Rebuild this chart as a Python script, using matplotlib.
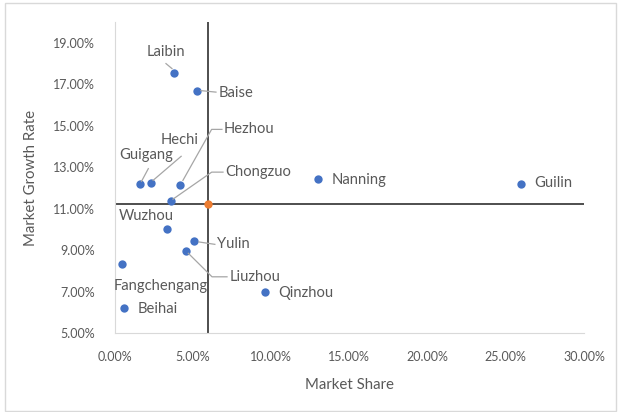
import matplotlib.pyplot as plt
from matplotlib.patches import Rectangle
from matplotlib.lines import Line2D
from matplotlib.ticker import PercentFormatter, MultipleLocator

# market share (%) and market growth rate (%) per city
cities = ['Laibin', 'Baise', 'Hezhou', 'Hechi', 'Guigang', 'Chongzuo', 'Wuzhou',
          'Nanning', 'Guilin', 'Yulin', 'Liuzhou', 'Fangchengang', 'Beihai', 'Qinzhou']
share = [3.80, 5.27, 4.18, 2.31, 1.63, 3.61, 3.37,
         13.02, 26.00, 5.09, 4.57, 0.48, 0.61, 9.62]
growth = [17.56, 16.69, 12.12, 12.22, 12.17, 11.36, 10.02,
          12.45, 12.20, 9.44, 8.95, 8.33, 6.22, 6.98]

mean_share = 5.95
mean_growth = 11.2

# label placement in pixels relative to the point (dx, dy down), alignment, leader path
label_pos = {
    'Laibin': ((-8, -21), 'center', [(-8, -9), (-2, -4)]),
    'Baise': ((22, 2), 'left', [(4, 0), (19, 1.5)]),
    'Hezhou': ((44, -56), 'left', [(3, -5), (31.7, -56), (42, -56)]),
    'Hechi': ((29, -43), 'center', [(2.5, -3), (30.5, -27)]),
    'Guigang': ((6.5, -29), 'center', [(1.5, -3), (8.3, -15.7)]),
    'Chongzuo': ((54.7, -29), 'left', [(2, -2), (40.7, -29), (52, -29)]),
    'Wuzhou': ((-21, -12.5), 'center', None),
    'Nanning': ((13.4, 1.7), 'left', None),
    'Guilin': ((12.7, -0.6), 'left', None),
    'Yulin': ((23, 3.4), 'left', [(4.7, 1), (20.7, 3.4)]),
    'Liuzhou': ((43.3, 25.7), 'left', [(2.3, 2.2), (26, 25.7), (41, 25.7)]),
    'Fangchengang': ((39, 21.7), 'center', None),
    'Beihai': ((13.3, 1), 'left', None),
    'Qinzhou': ((13.3, 1), 'left', None),
}

plt.rcParams['font.family'] = ['Lato', 'DejaVu Sans']
text_color = '#595959'

fig = plt.figure(figsize=(6.2, 4.12), dpi=100)
fig.patches.append(Rectangle((5 / 620, 1 / 412), 611 / 620, 408 / 412, transform=fig.transFigure,
                             fill=False, edgecolor='#d9d9d9', linewidth=1))
ax = fig.add_axes([114.5 / 620, 79 / 412, 469.5 / 620, 311 / 412])

ax.axhline(mean_growth, color='#404040', linewidth=1.3, zorder=1)
ax.axvline(mean_share, color='#404040', linewidth=1.3, zorder=1)
ax.scatter(share, growth, s=36, color='#4472C4', zorder=3, linewidths=0)
ax.scatter([mean_share], [mean_growth], s=36, color='#ED7D31', zorder=4, linewidths=0)

ax.set_xlim(0, 30)
ax.set_ylim(5, 20)
ax.xaxis.set_major_locator(MultipleLocator(5))
ax.set_yticks([5, 7, 9, 11, 13, 15, 17, 19])
ax.xaxis.set_major_formatter(PercentFormatter(decimals=2))
ax.yaxis.set_major_formatter(PercentFormatter(decimals=2))
ax.tick_params(length=0, labelsize=9, labelcolor=text_color)
ax.tick_params(axis='y', pad=14)
ax.tick_params(axis='x', pad=13)
for side in ['top', 'right']:
    ax.spines[side].set_visible(False)
for side in ['left', 'bottom']:
    ax.spines[side].set_color('#d9d9d9')

ax.set_xlabel('Market Share', fontsize=10.8, color=text_color, labelpad=11)
ax.set_ylabel('Market Growth Rate', fontsize=10.8, color=text_color, labelpad=11)

H = 412
for name, x, y in zip(cities, share, growth):
    (dx, dy), ha, leader = label_pos[name]
    px, py = ax.transData.transform((x, y))
    fig.text((px + dx) / 620, (py - dy) / H, name, ha=ha, va='center',
             fontsize=10.6, color=text_color)
    if leader:
        xs = [(px + ox) / 620 for ox, oy in leader]
        ys = [(py - oy) / H for ox, oy in leader]
        fig.lines.append(Line2D(xs, ys, transform=fig.transFigure,
                                color='#a6a6a6', linewidth=0.9))

fig.savefig('out.png', dpi=100)
